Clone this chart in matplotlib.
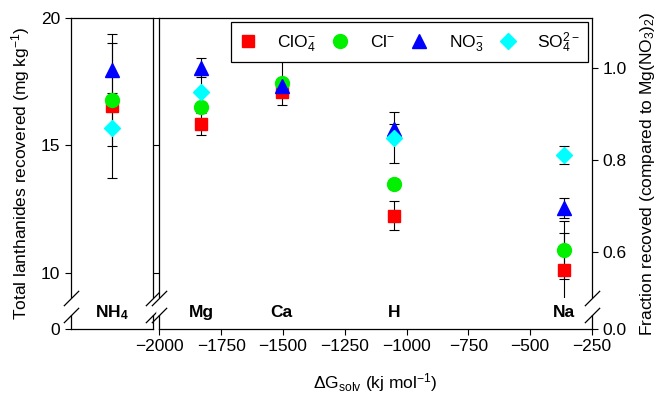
import numpy as np
import matplotlib.pyplot as plt
from matplotlib.patches import Rectangle

plt.rcParams['font.family'] = ['Liberation Sans', 'DejaVu Sans']
plt.rcParams['font.size'] = 12.5
plt.rcParams['mathtext.fontset'] = 'custom'
plt.rcParams['mathtext.rm'] = 'Liberation Sans'
plt.rcParams['mathtext.it'] = 'Liberation Sans:italic'
plt.rcParams['mathtext.bf'] = 'Liberation Sans:bold'

# ----------------------------
# Data
# ----------------------------
cations = ["Mg", "Ca", "H", "Na"]
dg_solv = [-1830, -1505, -1050, -365]

clo4 = [15.84, 17.11, 12.25, 10.12]
clo4_err = [0.45, 0.15, 0.57, 1.46]
cl = [16.52, 17.46, 13.49, 10.90]
cl_err = [0.20, 0.87, 0.20, 1.15]
no3 = [18.05, 17.33, 15.63, 12.54]
no3_err = [0.38, 0.15, 0.21, 0.38]
so4 = [17.09, np.nan, 15.31, 14.63]
so4_err = [0.69, np.nan, 1.00, 0.36]

# NH4 panel, order: ClO4, Cl, NO3, SO4
nh4_vals = [16.55, 16.78, 17.96, 15.67]
nh4_err = [2.83, 0.29, 1.07, 0.69]

anion_labels = [r"ClO$_4^{-}$", r"Cl$^{-}$", r"NO$_3^{-}$", r"SO$_4^{2-}$"]

# ----------------------------
# Config
# ----------------------------
YMIN, YMAX = 7.8, 20.0
REF = 18.04          # Mg(NO3)2 value -> fraction 1.0
BRK_HI, BRK_LO = 9.0, 8.35
LABEL_Y = 8.43

markers = ["s", "o", "^", "D"]
colors = ["#ff0000", "#00f000", "#0000ff", "#00ffff"]
msizes = [9, 10, 10, 8]

fig = plt.figure(figsize=(6.63, 4.01), dpi=100)
axL = fig.add_axes([0.1066, 0.1796, 0.1237, 0.7756])
ax = fig.add_axes([0.2403, 0.1796, 0.6526, 0.7756])
axR = ax.twinx()

err_kw = dict(fmt="none", ecolor="k", elinewidth=0.8, capsize=3.5, capthick=0.8, zorder=2)

# left panel (NH4)
for v, e in zip(nh4_vals, nh4_err):
    axL.errorbar([0.5], [v], yerr=[e], **err_kw)
for v, m, c, s in zip(nh4_vals, markers, colors, msizes):
    axL.plot([0.5], [v], ls="none", marker=m, color=c, ms=s, mec=c, zorder=3)

# main panel
clip = Rectangle((-2000, BRK_HI), 1750, YMAX - BRK_HI, transform=ax.transData)
series = [(clo4, clo4_err), (cl, cl_err), (no3, no3_err), (so4, so4_err)]
for vals, errs in series:
    eb = ax.errorbar(dg_solv, vals, yerr=errs, **err_kw)
    for art in eb.lines[1] + eb.lines[2]:
        art.set_clip_path(clip)
handles = []
for (vals, _), m, c, s, lab in zip(series, markers, colors, msizes, anion_labels):
    h, = ax.plot(dg_solv, vals, ls="none", marker=m, color=c, ms=s, mec=c, zorder=3, label=lab)
    handles.append(h)

# category labels
axL.text(0.5, LABEL_Y, r"NH$_\mathbf{4}$", ha="center", va="center", fontweight="bold")
for x, name in zip(dg_solv, cations):
    ax.text(x, LABEL_Y, name, ha="center", va="center", fontweight="bold")

# axes setup
axL.set_xlim(0, 1)
axL.set_ylim(YMIN, YMAX)
axL.set_xticks([])
axL.set_yticks([YMIN, 10, 15, 20], ["0", "10", "15", "20"])
axL.set_ylabel(r"Total lanthanides recovered (mg kg$^{-1}$)", labelpad=6)

ax.set_xlim(-2000, -250)
ax.set_ylim(YMIN, YMAX)
ax.set_xticks(np.arange(-2000, -249, 250))
ax.set_yticks([10, 15, 20])
ax.tick_params(axis="y", labelleft=False)
ax.spines["right"].set_visible(False)
ax.set_xlabel(r"$\Delta$G$_{\rm solv}$ (kj mol$^{-1}$)", labelpad=12)

axR.set_ylim(YMIN / REF, YMAX / REF)
axR.set_yticks([YMIN / REF, 0.6, 0.8, 1.0], ["0.0", "0.6", "0.8", "1.0"])
for side in ["left", "top", "bottom"]:
    axR.spines[side].set_visible(False)
axR.set_ylabel(r"Fraction recoved (compared to Mg(NO$_3$)$_2$)", labelpad=8)

for a in [axL, ax, axR]:
    a.tick_params(direction="out", length=4, width=0.8, colors="k")
    for sp in a.spines.values():
        sp.set_linewidth(0.9)


def axis_break(a, xfrac):
    yf = [(BRK_HI - YMIN) / (YMAX - YMIN), (BRK_LO - YMIN) / (YMAX - YMIN)]
    a.plot([xfrac, xfrac], yf, color="white", lw=4, transform=a.transAxes,
           clip_on=False, zorder=5, solid_capstyle="butt")
    a.plot([xfrac, xfrac], yf, ls="none", marker=[(-1, -1), (1, 1)], ms=11,
           mew=0.9, mec="k", transform=a.transAxes, clip_on=False, zorder=6)


axis_break(axL, 0.0)
axis_break(axL, 1.0)
axis_break(ax, 0.0)
axis_break(axR, 1.0)

leg = ax.legend(handles=handles, loc="upper right", ncol=4, frameon=True, fancybox=False,
                edgecolor="k", borderaxespad=0.25, handlelength=1.0, handletextpad=1.2,
                columnspacing=0.9, borderpad=0.45, framealpha=1)
leg.get_frame().set_linewidth(0.9)

fig.savefig("out.png", dpi=100)
